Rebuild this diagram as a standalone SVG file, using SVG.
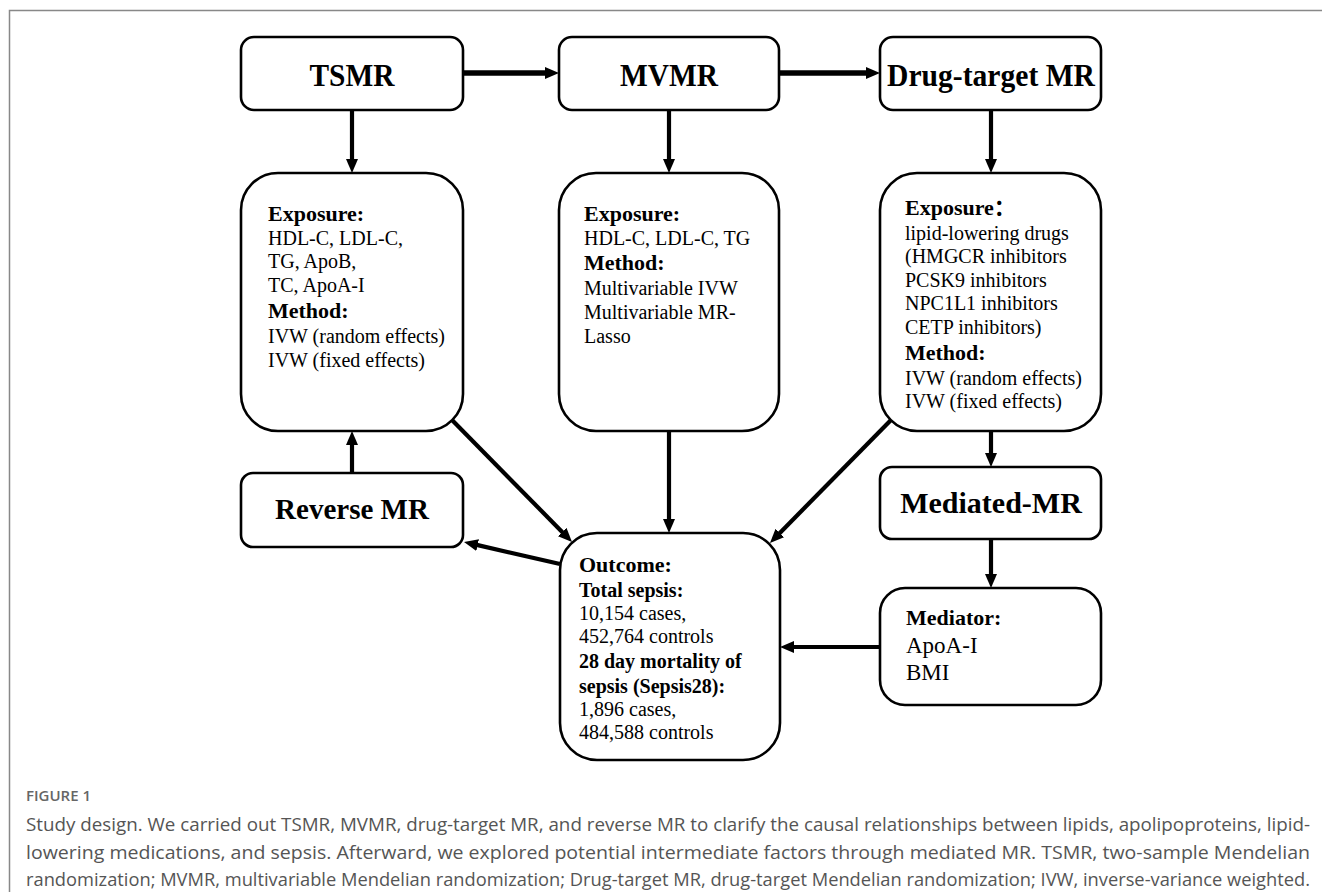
<svg xmlns="http://www.w3.org/2000/svg" width="1322" height="892" viewBox="0 0 1322 892">
<style>
.box{fill:#fff;stroke:#000;stroke-width:2.6}
.title{font-family:"Liberation Serif","Times New Roman",serif;font-weight:bold;fill:#000}
.h{font-family:"Liberation Serif","Noto Sans CJK SC",serif;font-weight:bold;font-size:22px;fill:#000}
.h2{font-family:"Liberation Serif",serif;font-weight:bold;font-size:20px;fill:#000}
.t{font-family:"Liberation Serif",serif;font-size:20px;fill:#000}
.t2{font-family:"Liberation Serif",serif;font-size:23px;fill:#000}
.conn{fill:none;stroke:#000;stroke-width:4.2}
.thick{stroke-width:5.5}
.cap{font-family:"Open Sans","Liberation Sans",sans-serif;font-size:18px;fill:#555}
.fig{font-family:"Open Sans","Liberation Sans",sans-serif;font-size:15px;font-weight:600;fill:#666}
</style>
<defs>
<marker id="ah" viewBox="0 0 14 12" refX="1" refY="6" markerWidth="14" markerHeight="12" markerUnits="userSpaceOnUse" orient="auto">
<path d="M0,0 L14,6 L0,12 z" fill="#000"/>
</marker>
</defs>
<rect width="1322" height="892" fill="#fff"/>
<path d="M9.5,892 L9.5,10.5 L1322,10.5" fill="none" stroke="#888" stroke-width="1.5"/>

<g id="connectors">
<path class="conn thick" d="M463,73 L546,73" marker-end="url(#ah)"/>
<path class="conn thick" d="M779,73 L867,73" marker-end="url(#ah)"/>
<path class="conn" d="M352,110 L352,160" marker-end="url(#ah)"/>
<path class="conn" d="M669,110 L669,160" marker-end="url(#ah)"/>
<path class="conn" d="M991,110 L991,160" marker-end="url(#ah)"/>
<path class="conn" d="M352,473 L352,444" marker-end="url(#ah)"/>
<path class="conn" d="M669,431 L669,520" marker-end="url(#ah)"/>
<path class="conn" d="M452,420 L562.9,532.7" marker-end="url(#ah)"/>
<path class="conn" d="M891,420 L779.1,533.7" marker-end="url(#ah)"/>
<path class="conn" d="M560,564 L476.7,544.9" marker-end="url(#ah)"/>
<path class="conn" d="M991,431 L991,454" marker-end="url(#ah)"/>
<path class="conn" d="M991,539 L991,575" marker-end="url(#ah)"/>
<path class="conn" d="M880,647 L793,647" marker-end="url(#ah)"/>
</g>

<g id="tsmr">
<rect class="box" x="241" y="37" width="222" height="73" rx="13"/>
<text class="title" x="352" y="86" font-size="32" text-anchor="middle" textLength="85" lengthAdjust="spacingAndGlyphs">TSMR</text>
</g>
<g id="mvmr">
<rect class="box" x="559" y="37" width="220" height="73" rx="13"/>
<text class="title" x="669" y="86" font-size="32" text-anchor="middle" textLength="98" lengthAdjust="spacingAndGlyphs">MVMR</text>
</g>
<g id="drug-target-mr">
<rect class="box" x="880" y="37" width="221" height="73" rx="13"/>
<text class="title" x="991" y="86" font-size="32" text-anchor="middle" textLength="208" lengthAdjust="spacingAndGlyphs">Drug-target MR</text>
</g>

<g id="tsmr-detail">
<rect class="box" x="241" y="173" width="222" height="258" rx="37"/>
<text class="h" x="268" y="221">Exposure:</text>
<text class="t" x="268" y="245">HDL-C, LDL-C,</text>
<text class="t" x="268" y="268">TG, ApoB,</text>
<text class="t" x="268" y="292">TC, ApoA-I</text>
<text class="h" x="268" y="318">Method:</text>
<text class="t" x="268" y="343">IVW (random effects)</text>
<text class="t" x="268" y="367">IVW (fixed effects)</text>
</g>

<g id="mvmr-detail">
<rect class="box" x="559" y="173" width="220" height="258" rx="37"/>
<text class="h" x="584" y="221">Exposure:</text>
<text class="t" x="584" y="245">HDL-C, LDL-C, TG</text>
<text class="h" x="584" y="270">Method:</text>
<text class="t" x="584" y="295">Multivariable IVW</text>
<text class="t" x="584" y="319">Multivariable MR-</text>
<text class="t" x="584" y="343">Lasso</text>
</g>

<g id="drug-detail">
<rect class="box" x="880" y="173" width="221" height="258" rx="37"/>
<text class="h" x="905" y="215">Exposure：</text>
<text class="t" x="905" y="240">lipid-lowering drugs</text>
<text class="t" x="905" y="263">(HMGCR inhibitors</text>
<text class="t" x="905" y="287">PCSK9 inhibitors</text>
<text class="t" x="905" y="310">NPC1L1 inhibitors</text>
<text class="t" x="905" y="334">CETP inhibitors)</text>
<text class="h" x="905" y="360">Method:</text>
<text class="t" x="905" y="385">IVW (random effects)</text>
<text class="t" x="905" y="408">IVW (fixed effects)</text>
</g>

<g id="reverse-mr">
<rect class="box" x="241" y="473" width="222" height="74" rx="12"/>
<text class="title" x="352" y="519" font-size="29" text-anchor="middle">Reverse MR</text>
</g>

<g id="mediated-mr">
<rect class="box" x="880" y="467" width="221" height="72" rx="12"/>
<text class="title" x="991" y="513" font-size="30" text-anchor="middle">Mediated-MR</text>
</g>

<g id="outcome">
<rect class="box" x="560" y="533" width="220" height="227" rx="37"/>
<text class="h" x="579" y="572">Outcome:</text>
<text class="h2" x="579" y="597">Total sepsis:</text>
<text class="t" x="579" y="620">10,154 cases,</text>
<text class="t" x="579" y="643">452,764 controls</text>
<text class="h2" x="579" y="668">28 day mortality of</text>
<text class="h2" x="579" y="693">sepsis (Sepsis28):</text>
<text class="t" x="579" y="716">1,896 cases,</text>
<text class="t" x="579" y="739">484,588 controls</text>
</g>

<g id="mediator">
<rect class="box" x="880" y="588" width="221" height="117" rx="25"/>
<text class="h" x="906" y="625">Mediator:</text>
<text class="t2" x="906" y="653">ApoA-I</text>
<text class="t2" x="906" y="680">BMI</text>
</g>

<g id="caption">
<text class="fig" x="26" y="801">FIGURE 1</text>
<text class="cap" x="26" y="831" textLength="1284" lengthAdjust="spacingAndGlyphs">Study design. We carried out TSMR, MVMR, drug-target MR, and reverse MR to clarify the causal relationships between lipids, apolipoproteins, lipid-</text>
<text class="cap" x="26" y="859" textLength="1284" lengthAdjust="spacingAndGlyphs">lowering medications, and sepsis. Afterward, we explored potential intermediate factors through mediated MR. TSMR, two-sample Mendelian</text>
<text class="cap" x="26" y="886" textLength="1284" lengthAdjust="spacingAndGlyphs">randomization; MVMR, multivariable Mendelian randomization; Drug-target MR, drug-target Mendelian randomization; IVW, inverse-variance weighted.</text>
</g>
</svg>
